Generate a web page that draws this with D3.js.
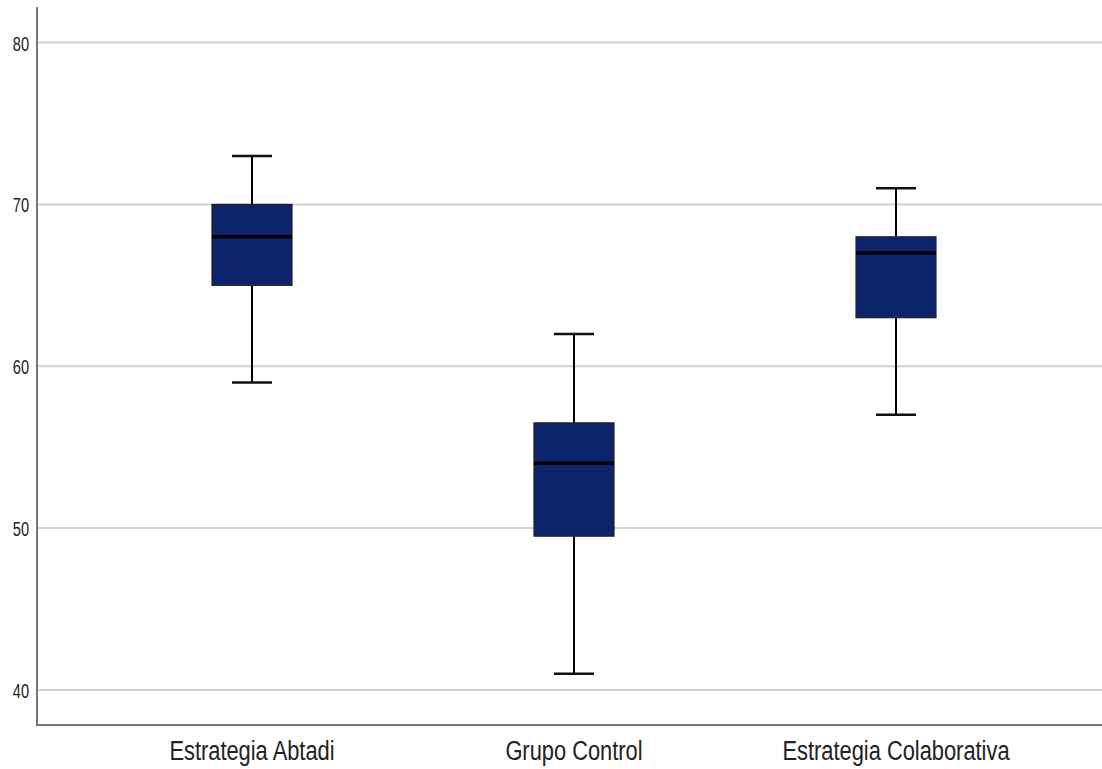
<!DOCTYPE html>
<html>
<head>
<meta charset="utf-8">
<script src="https://cdn.jsdelivr.net/npm/d3@7"></script>
<style>
  html, body { margin: 0; padding: 0; background: #fff; }
  svg { display: block; }
</style>
</head>
<body>
<svg id="chart" width="1102" height="769"></svg>
<script>
// Group labels and five-number summaries per group
const categories = ["Estrategia Abtadi", "Grupo Control", "Estrategia Colaborativa"];
const minVals    = [59, 41, 57];
const q1Vals     = [65, 49.5, 63];
const medianVals = [68, 54, 67];
const q3Vals     = [70, 56.5, 68];
const maxVals    = [73, 62, 71];
const yTicks     = [40, 50, 60, 70, 80];

const svg = d3.select("#chart");
const margin = { left: 37, right: 2, top: 7, bottom: 44 };
const W = 1102, H = 769;

const y = d3.scaleLinear().domain([37.83, 82.2]).range([H - margin.bottom, margin.top]);
const x = d3.scalePoint().domain(categories).range([252, 896]);

// Horizontal gridlines
svg.append("g")
  .selectAll("line")
  .data(yTicks)
  .join("line")
  .attr("x1", margin.left).attr("x2", W)
  .attr("y1", d => y(d)).attr("y2", d => y(d))
  .attr("stroke", "#d2d2d2").attr("stroke-width", 2);

// Y axis (labels horizontally condensed)
const tickSqueeze = 0.75;
const yAxis = d3.axisLeft(y).tickValues(yTicks).tickSize(0).tickPadding(8);
const gy = svg.append("g").attr("transform", `translate(${margin.left},0)`).call(yAxis);
gy.select(".domain").remove();
gy.selectAll("text")
  .attr("font-family", "'Liberation Sans', Arial, sans-serif")
  .attr("font-size", 19.5).attr("fill", "#222")
  .attr("x", -8 / tickSqueeze)
  .attr("dy", "0.38em")
  .attr("transform", `scale(${tickSqueeze},1)`);

// Box geometry
const boxW = 80, capW = 40;
const data = categories.map((c, i) => ({
  c, min: minVals[i], q1: q1Vals[i], med: medianVals[i], q3: q3Vals[i], max: maxVals[i]
}));
const cx = d => x(d.c);

const grp = svg.append("g").selectAll("g.box").data(data).join("g").attr("class", "box");

// Whiskers
grp.append("line")
  .attr("x1", cx).attr("x2", cx)
  .attr("y1", d => y(d.max)).attr("y2", d => y(d.q3))
  .attr("stroke", "#000").attr("stroke-width", 2);
grp.append("line")
  .attr("x1", cx).attr("x2", cx)
  .attr("y1", d => y(d.q1)).attr("y2", d => y(d.min))
  .attr("stroke", "#000").attr("stroke-width", 2);
// Caps
grp.append("line")
  .attr("x1", d => cx(d) - capW / 2).attr("x2", d => cx(d) + capW / 2)
  .attr("y1", d => y(d.max)).attr("y2", d => y(d.max))
  .attr("stroke", "#111").attr("stroke-width", 2.5);
grp.append("line")
  .attr("x1", d => cx(d) - capW / 2).attr("x2", d => cx(d) + capW / 2)
  .attr("y1", d => y(d.min)).attr("y2", d => y(d.min))
  .attr("stroke", "#111").attr("stroke-width", 2.5);
// Boxes
grp.append("rect")
  .attr("x", d => cx(d) - boxW / 2).attr("width", boxW)
  .attr("y", d => y(d.q3)).attr("height", d => y(d.q1) - y(d.q3))
  .attr("fill", "#0b246b").attr("stroke", "#222").attr("stroke-width", 1.2);
// Medians
grp.append("line")
  .attr("x1", d => cx(d) - boxW / 2).attr("x2", d => cx(d) + boxW / 2)
  .attr("y1", d => y(d.med)).attr("y2", d => y(d.med))
  .attr("stroke", "#000").attr("stroke-width", 3.5);

// Axis lines
svg.append("line")
  .attr("x1", margin.left).attr("x2", margin.left)
  .attr("y1", margin.top).attr("y2", H - margin.bottom)
  .attr("stroke", "#777").attr("stroke-width", 2);
svg.append("line")
  .attr("x1", margin.left - 1).attr("x2", W)
  .attr("y1", H - margin.bottom).attr("y2", H - margin.bottom)
  .attr("stroke", "#777").attr("stroke-width", 2);

// Category labels (condensed)
const labelSqueeze = 0.81;
svg.append("g")
  .selectAll("text")
  .data(categories)
  .join("text")
  .attr("x", d => x(d) / labelSqueeze)
  .attr("y", 760)
  .attr("transform", `scale(${labelSqueeze},1)`)
  .attr("text-anchor", "middle")
  .attr("font-family", "'Liberation Sans', Arial, sans-serif")
  .attr("font-size", 27).attr("fill", "#222")
  .text(d => d);
</script>
</body>
</html>
